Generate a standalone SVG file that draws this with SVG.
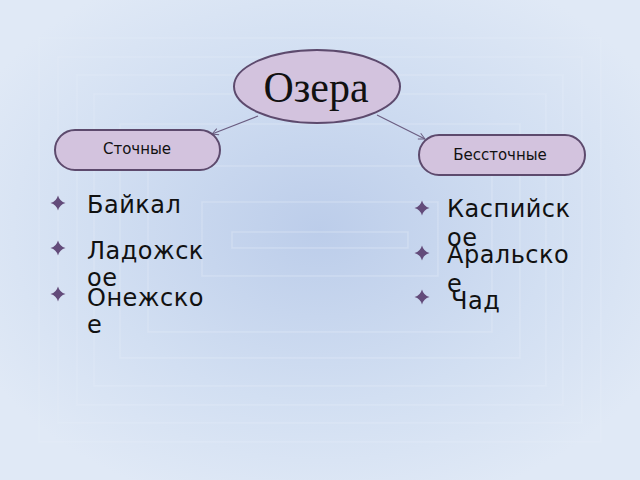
<svg xmlns="http://www.w3.org/2000/svg" width="640" height="480" viewBox="0 0 640 480">
<defs>
<radialGradient id="bg" cx="50%" cy="48%" r="60%">
<stop offset="0" stop-color="#bccdea"/>
<stop offset="0.6" stop-color="#d2dff2"/>
<stop offset="1" stop-color="#e0e9f6"/>
</radialGradient>
<marker id="arr" viewBox="0 0 10 10" refX="9" refY="5" markerWidth="8" markerHeight="8" orient="auto" markerUnits="userSpaceOnUse">
<path d="M1,1 L9,5 L1,9" fill="none" stroke="#6a5c80" stroke-width="1.2"/>
</marker>
<path id="star" d="M0,-7.5 Q1.6,-1.6 7.5,0 Q1.6,1.6 0,7.5 Q-1.6,1.6 -7.5,0 Q-1.6,-1.6 0,-7.5 Z"/>
</defs>
<style>
.frame{fill:none;stroke:#e6edf8;stroke-width:1.5;opacity:0.35}
.node{fill:#d3c3de;stroke:#5d4a6d;stroke-width:2}
.small{font-family:"DejaVu Sans",sans-serif;font-size:15px;fill:#111;text-anchor:middle}
.item{font-family:"DejaVu Sans",sans-serif;font-size:24px;fill:#111;letter-spacing:0.5px}
.bul{fill:#634b7a}
.conn{stroke:#6a5c80;stroke-width:1.2;fill:none}
</style>
<rect width="640" height="480" fill="url(#bg)"/>
<g id="frames">
<rect class="frame" x="39" y="38" width="562" height="404"/>
<rect class="frame" x="58" y="57" width="524" height="366"/>
<rect class="frame" x="77" y="75" width="486" height="330"/>
<rect class="frame" x="94" y="94" width="452" height="292"/>
<rect class="frame" x="120" y="124" width="400" height="234"/>
<rect class="frame" x="148" y="166" width="344" height="166"/>
<rect class="frame" x="202" y="202" width="236" height="74"/>
<rect class="frame" x="232" y="232" width="176" height="16"/>
</g>
<g id="connectors">
<line class="conn" x1="258" y1="116" x2="212" y2="134" marker-end="url(#arr)"/>
<line class="conn" x1="377" y1="115" x2="425" y2="139" marker-end="url(#arr)"/>
</g>
<g id="lakes">
<ellipse class="node" cx="317" cy="86.5" rx="83" ry="36.5"/>
<text x="316" y="102" font-family="Liberation Serif, serif" font-size="44" text-anchor="middle" fill="#111" textLength="105" lengthAdjust="spacingAndGlyphs">Озера</text>
</g>
<g id="drain">
<rect class="node" x="55" y="130" width="165" height="40" rx="20"/>
<text class="small" x="137" y="154">Сточные</text>
</g>
<g id="nodrain">
<rect class="node" x="419" y="135" width="166" height="40" rx="20"/>
<text class="small" x="500" y="160">Бессточные</text>
</g>
<g id="list-left">
<use href="#star" class="bul" x="58" y="203"/>
<use href="#star" class="bul" x="58" y="248"/>
<use href="#star" class="bul" x="58" y="294"/>
<text class="item" x="87" y="213">Байкал</text>
<text class="item" x="87" y="259">Ладожск</text>
<text class="item" x="87" y="286">ое</text>
<text class="item" x="87" y="306">Онежско</text>
<text class="item" x="87" y="333">е</text>
</g>
<g id="list-right">
<use href="#star" class="bul" x="422" y="208"/>
<use href="#star" class="bul" x="422" y="253"/>
<use href="#star" class="bul" x="422" y="297"/>
<text class="item" x="447" y="217">Каспийск</text>
<text class="item" x="447" y="246">ое</text>
<text class="item" x="447" y="263">Аральско</text>
<text class="item" x="447" y="292">е</text>
<text class="item" x="451" y="309">Чад</text>
</g>
</svg>
